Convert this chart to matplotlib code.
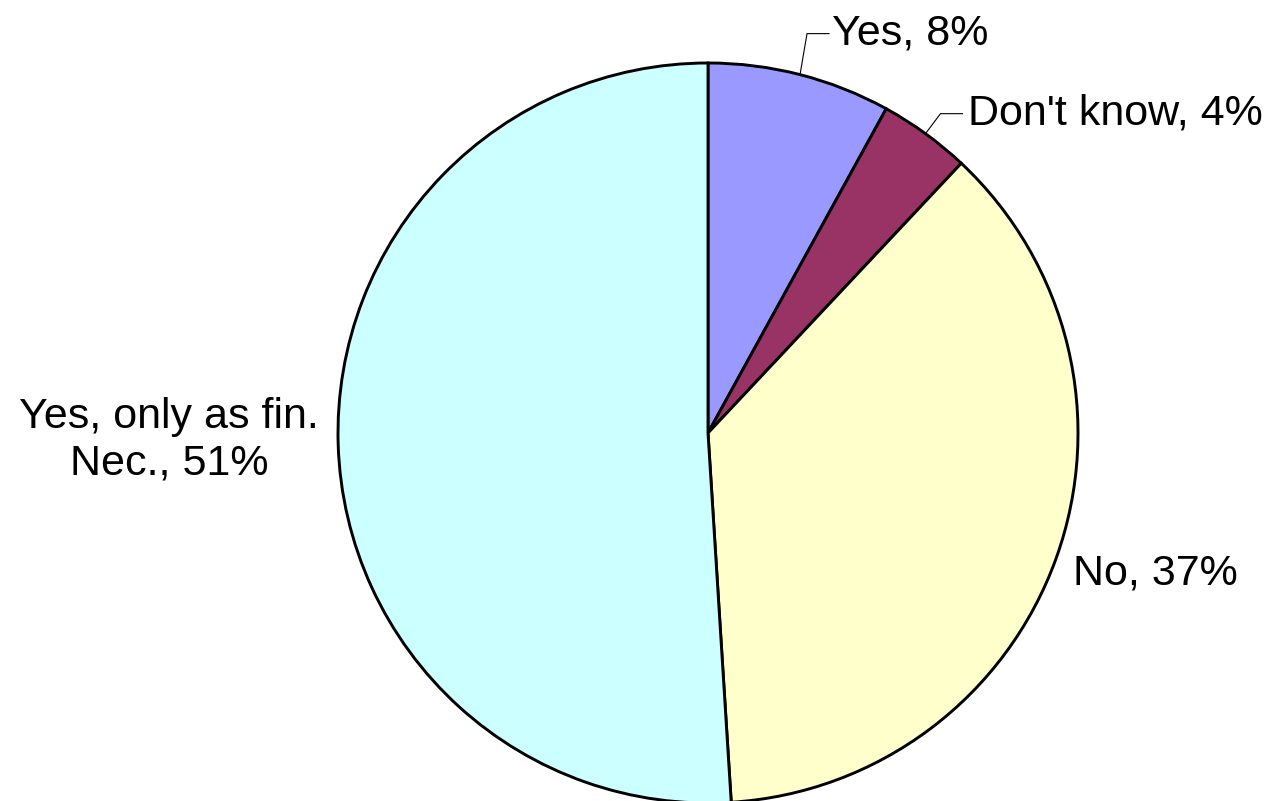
import numpy as np
import matplotlib.pyplot as plt

plt.rcParams['font.family'] = ['Liberation Sans', 'DejaVu Sans']

labels = ["Yes, 8%", "Don't know, 4%", "No, 37%", "Yes, only as fin.\nNec., 51%"]
values = [8, 4, 37, 51]
colors = ["#9999FF", "#993366", "#FFFFCC", "#CCFFFF"]

W, H = 1277, 801
cx, cy, r = 708, H - 433, 370

fig = plt.figure(figsize=(W / 100, H / 100), dpi=100)
ax = fig.add_axes([0, 0, 1, 1])
ax.pie(values, colors=colors, startangle=90, counterclock=False,
       center=(cx, cy), radius=r,
       wedgeprops=dict(edgecolor="black", linewidth=2.1))
ax.set_xlim(0, W)
ax.set_ylim(0, H)
ax.set_aspect("equal")
ax.axis("off")

# mid angles of slices (clockwise from top)
cum = np.cumsum([0] + values)
mids = 90 - (cum[:-1] + cum[1:]) / 2 / 100 * 360


def edge_point(i):
    a = np.deg2rad(mids[i])
    return cx + r * np.cos(a), cy + r * np.sin(a)


fs = 31
# Yes, 8% with leader line
x0, y0 = edge_point(0)
ex, ey = x0 + 7, y0 + 41
ax.plot([x0, ex, ex + 22], [y0, ey, ey], color="black", lw=0.8)
ax.text(ex + 25, ey, labels[0], fontsize=fs, va="center", ha="left")

# Don't know, 4%
x0, y0 = edge_point(1)
ex, ey = x0 + 15, y0 + 20
ax.plot([x0, ex, ex + 22], [y0, ey, ey], color="black", lw=0.8)
ax.text(ex + 28, ey, labels[1], fontsize=fs, va="center", ha="left")

# No, 37%
ax.text(1073, H - 573, labels[2], fontsize=fs, va="center", ha="left")

# Yes, only as fin. Nec., 51%
ax.text(169, H - 440, labels[3], fontsize=fs, va="center", ha="center",
        multialignment="center")

plt.savefig("out.png", dpi=100)
